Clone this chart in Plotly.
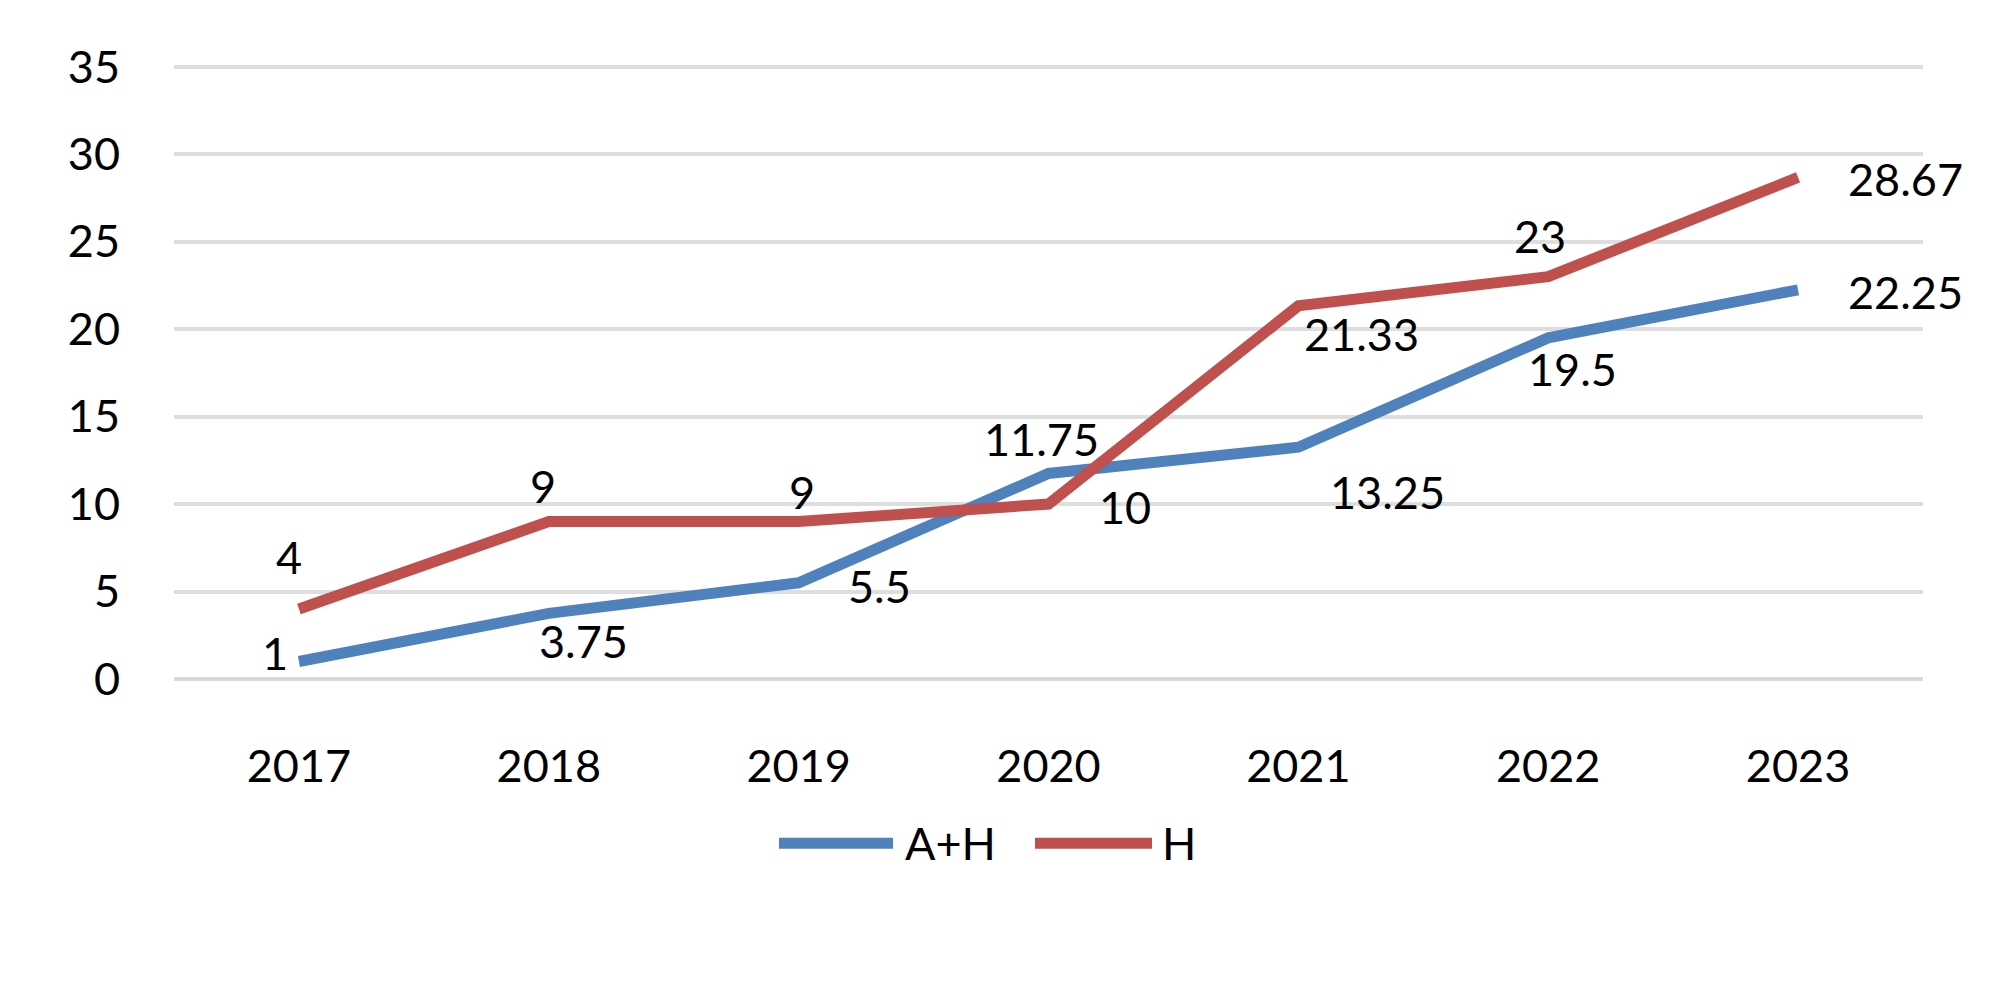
import plotly.graph_objects as go

years = ["2017", "2018", "2019", "2020", "2021", "2022", "2023"]
ah_values = [1, 3.75, 5.5, 11.75, 13.25, 19.5, 22.25]
h_values = [4, 9, 9, 10, 21.33, 23, 28.67]
y_ticks = [0, 5, 10, 15, 20, 25, 30, 35]

BLUE = "#4F81BD"
RED = "#C0504D"
FONT = "Lato"
FS = 45

# label offsets in pixels (dx, dy up-positive)
ah_off = [(-24, 9), (35, -28), (81, -3), (-7, 34), (89, -45), (24, -31), (107, -2)]
h_off = [(-10, 52), (-6, 36), (3, 30), (76, -3), (63, -28), (-8, 41), (107, -2)]

fig = go.Figure()
fig.add_trace(go.Scatter(x=years, y=ah_values, mode="lines", name="A+H",
                         line=dict(color=BLUE, width=11), showlegend=False))
fig.add_trace(go.Scatter(x=years, y=h_values, mode="lines", name="H",
                         line=dict(color=RED, width=11), showlegend=False))

annotations = []
for vals, offs in ((ah_values, ah_off), (h_values, h_off)):
    for i, (v, (dx, dy)) in enumerate(zip(vals, offs)):
        annotations.append(dict(x=i, y=v, xref="x", yref="y", text=f"{v:g}",
                                showarrow=False, xshift=dx, yshift=dy,
                                font=dict(family=FONT, size=FS, color="#000")))

# custom legend
W, H = 1749, 613
def px(xp):
    return (xp - 174) / W
def py(yp):
    return (679 - yp) / H

shapes = [
    dict(type="line", xref="paper", yref="paper", x0=px(779), x1=px(893), y0=py(843), y1=py(843),
         line=dict(color=BLUE, width=11)),
    dict(type="line", xref="paper", yref="paper", x0=px(1035), x1=px(1152), y0=py(843), y1=py(843),
         line=dict(color=RED, width=11)),
]
annotations.append(dict(x=px(903), y=py(843), xref="paper", yref="paper", text="A+H",
                        showarrow=False, xanchor="left", yanchor="middle",
                        font=dict(family=FONT, size=FS, color="#000")))
annotations.append(dict(x=px(1160), y=py(843), xref="paper", yref="paper", text="H",
                        showarrow=False, xanchor="left", yanchor="middle",
                        font=dict(family=FONT, size=FS, color="#000")))

fig.update_layout(
    width=2000, height=1003,
    margin=dict(l=174, r=77, t=65, b=324),
    paper_bgcolor="white", plot_bgcolor="white",
    font=dict(family=FONT, size=FS, color="#000"),
    annotations=annotations, shapes=shapes,
    showlegend=False,
)
fig.update_xaxes(type="category", range=[-0.5, 6.5], showgrid=False, showline=False,
                 ticks="", tickfont=dict(family=FONT, size=FS, color="#000"),
                 ticklabelstandoff=57)
fig.update_yaxes(range=[0, 35.1], tickvals=y_ticks, showgrid=True, gridcolor="#DEDEDE",
                 gridwidth=4, zeroline=True, zerolinecolor="#D9D9D9", zerolinewidth=4,
                 showline=False, ticks="", tickfont=dict(family=FONT, size=FS, color="#000"),
                 ticklabelstandoff=53)

fig.write_html("out.html", config={"displayModeBar": False},
               post_script="document.body.style.margin='0';")
